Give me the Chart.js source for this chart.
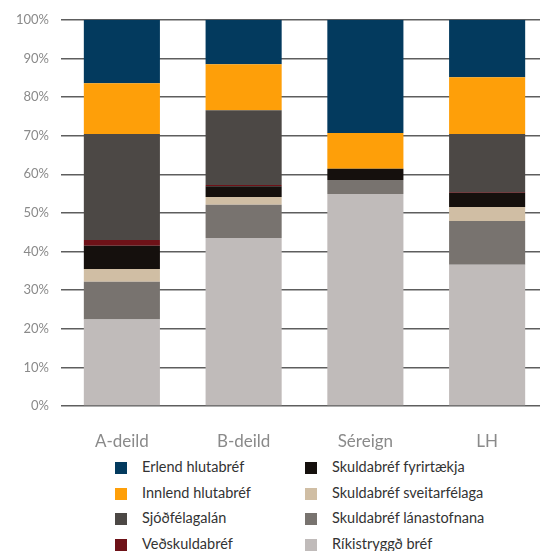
<!DOCTYPE html>
<html>
<head>
<meta charset="utf-8">
<script src="https://cdn.jsdelivr.net/npm/chart.js@4"></script>
<style>
  body { margin: 0; width: 540px; height: 551px; overflow: hidden; background: #fff; font-family: Lato, sans-serif; }
  #wrap { position: absolute; left: 0; top: 0; width: 548px; height: 450px; }
  #legend { position: absolute; left: 0; top: 0; }
  .item { position: absolute; font-size: 14.5px; color: #333; white-space: nowrap; line-height: 16px; }
  .sw { position: absolute; width: 12px; height: 12px; left: -27px; top: 3px; }
</style>
</head>
<body>
<div id="wrap"><canvas id="graph" width="548" height="450"></canvas></div>
<div id="legend"></div>
<script>
const categories = ['A-deild', 'B-deild', 'Séreign', 'LH'];

// stacked bottom to top
const rikistryggd = [22.4, 43.5, 54.9, 36.6];
const lanastofnana = [9.8, 8.6, 3.6, 11.3];
const sveitarfelaga = [3.3, 2.0, 0, 3.6];
const fyrirtaekja = [6.0, 2.8, 2.9, 3.7];
const vedskuldabref = [1.5, 0.3, 0, 0.2];
const sjodfelagalan = [27.4, 19.4, 0, 15.0];
const innlend = [13.2, 11.9, 9.3, 14.7];
const erlend = [16.4, 11.5, 29.3, 14.9];

const yTicks = [0, 10, 20, 30, 40, 50, 60, 70, 80, 90, 100];

const series = [
  { label: 'Ríkistryggð bréf', data: rikistryggd, color: '#c0bbba' },
  { label: 'Skuldabréf lánastofnana', data: lanastofnana, color: '#78736f' },
  { label: 'Skuldabréf sveitarfélaga', data: sveitarfelaga, color: '#d0bea4' },
  { label: 'Skuldabréf fyrirtækja', data: fyrirtaekja, color: '#15100d' },
  { label: 'Veðskuldabréf', data: vedskuldabref, color: '#6e1218' },
  { label: 'Sjóðfélagalán', data: sjodfelagalan, color: '#4c4845' },
  { label: 'Innlend hlutabréf', data: innlend, color: '#fe9f09' },
  { label: 'Erlend hlutabréf', data: erlend, color: '#033a5e' },
];

new Chart(document.getElementById('graph'), {
  type: 'bar',
  data: {
    labels: categories,
    datasets: series.map(s => ({
      label: s.label,
      data: s.data,
      backgroundColor: s.color,
      borderWidth: 0,
      categoryPercentage: 1,
      barPercentage: 0.625,
    })),
  },
  options: {
    responsive: false,
    animation: false,
    layout: { padding: { top: 18, right: 0, left: 0, bottom: 0 } },
    plugins: { legend: { display: false }, tooltip: { enabled: false } },
    scales: {
      x: {
        stacked: true,
        grid: { display: false },
        border: { display: false },
        ticks: { color: '#8a8a8a', font: { family: 'Lato', size: 17 }, padding: 17 },
        afterFit: s => { s.height = 44; },
      },
      y: {
        stacked: true,
        min: 0,
        max: 100,
        afterBuildTicks: s => { s.ticks = yTicks.map(v => ({ value: v })); },
        grid: { color: '#5e5e5e', lineWidth: 1.5, drawTicks: false },
        border: { display: false },
        ticks: { color: '#8a8a8a', font: { family: 'Lato', size: 13 }, padding: 12, callback: v => v + '%' },
        afterFit: s => { s.width = 61; },
      },
    },
  },
});

// legend: two columns, top of stack first
const legend = document.getElementById('legend');
const order = series.slice().reverse();
order.forEach((s, i) => {
  const col = Math.floor(i / 4), row = i % 4;
  const el = document.createElement('div');
  el.className = 'item';
  el.style.left = (col ? 332 : 142) + 'px';
  el.style.top = (459 + row * 25.5) + 'px';
  el.innerHTML = '<span class="sw" style="background:' + s.color + '"></span>' + s.label;
  legend.appendChild(el);
});
</script>
</body>
</html>
